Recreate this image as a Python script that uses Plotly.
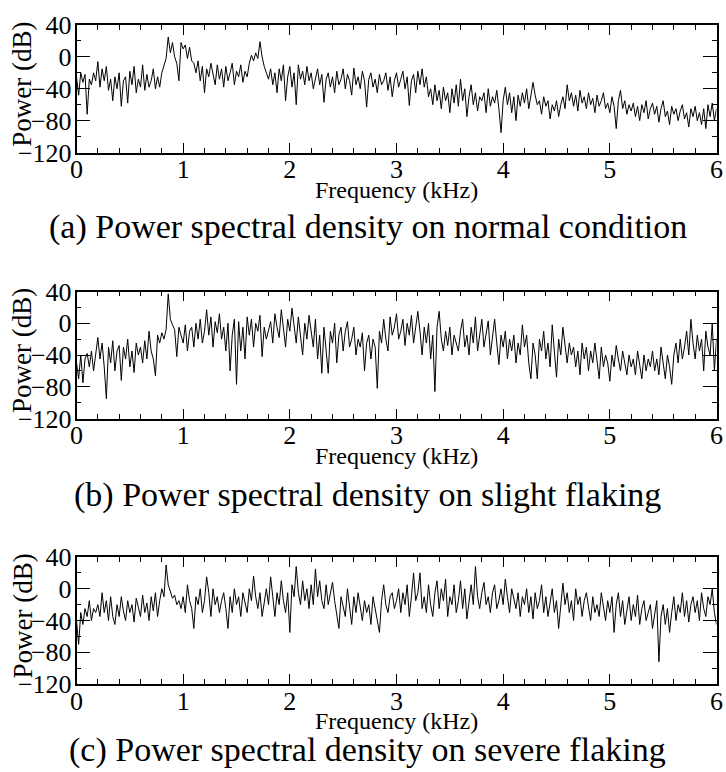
import numpy as np
import plotly.graph_objects as go

# frequency grid (kHz), uniform 0.02 kHz step
freq_khz = np.round(np.arange(301) * 0.02, 2)

# (a) normal condition, dB
psd_normal = [
    -25, -48, -20, -32, -22, -72, -28, -35, -20, -30,
    -6, -38, -15, -30, -12, -42, -28, -55, -25, -40,
    -20, -62, -30, -25, -58, -18, -35, -12, -45, -28,
    -38, -10, -42, -22, -38, -30, -15, -40, -25, -38,
    -20, -12, -2, 25, 5, 18, 0, -8, -30, 18,
    10, 15, -2, 12, -5, -8, -20, -5, -30, -12,
    -45, -15, -25, -8, -22, -35, -10, -28, -15, -38,
    -12, -30, -20, -8, -35, -18, -25, -10, -32, -18,
    -25, -8, 2, -5, 5, -2, 19, 0, -12, -20,
    -28, -15, -35, -20, -45, -15, -30, -10, -55, -25,
    -12, -38, -20, -60, -10, -28, -18, -35, -12, -30,
    -20, -40, -25, -15, -35, -22, -57, -28, -20, -38,
    -25, -45, -18, -35, -28, -15, -40, -22, -30, -48,
    -14, -35, -25, -40, -18, -30, -63, -28, -20, -38,
    -28, -45, -22, -35, -30, -20, -42, -25, -50, -30,
    -20, -38, -28, -18, -40, -25, -61, -30, -22, -45,
    -18, -35, -15, -38, -25, -50, -40, -60, -35, -55,
    -42, -65, -38, -55, -45, -70, -40, -58, -35, -62,
    -28, -55, -40, -75, -50, -35, -60, -45, -68, -50,
    -55, -45, -70, -40, -62, -50, -58, -42, -65, -95,
    -55, -38, -60, -45, -70, -50, -80, -48, -62, -45,
    -58, -40, -65, -50, -32, -48, -60, -55, -72, -50,
    -62, -55, -78, -60, -68, -55, -75, -60, -50, -65,
    -35, -55, -45, -62, -48, -68, -42, -58, -50, -65,
    -45, -60, -52, -70, -48, -62, -55, -45, -65, -58,
    -70, -50, -62, -90, -55, -42, -65, -55, -72, -60,
    -68, -58, -75, -62, -80, -60, -70, -55, -78, -65,
    -58, -72, -62, -82, -65, -55, -75, -68, -85, -62,
    -72, -65, -80, -68, -60, -78, -70, -88, -65, -75,
    -62, -80, -70, -85, -65, -90, -60, -75, -58, -80,
    -65,
]

# (b) slight flaking, dB
psd_slight = [
    -50, -70, -40, -75, -45, -38, -55, -35, -60, -42,
    -18, -45, -25, -55, -95, -30, -50, -22, -60, -35,
    -28, -72, -30, -45, -20, -55, -35, -62, -25, -40,
    -30, -50, -22, -45, -10, -35, -45, -66, -15, -25,
    -12, -20, -8, 37, 5, -2, -8, -42, -5, -15,
    -25, -2, -35, -10, -5, -30, 0, -20, 5, -25,
    -10, 17, -15, 8, -30, 2, -12, 12, -20, -5,
    -35, 0, -60, -15, 5, -77, 2, -35, -5, -45,
    8, -15, 5, -30, 0, -10, 10, -42, -5, -20,
    -8, 2, -25, 12, -5, -18, 17, -3, -30, 5,
    -10, 19, -5, -25, 8, -15, -40, 0, -20, 10,
    -8, -30, 5, -45, -15, -63, -5, -30, -63, -10,
    -25, 0, -50, -15, -5, -35, -10, 2, -30, -20,
    -5, -40, -20, -30, -12, -60, -25, -15, -45, -20,
    -30, -82, -10, -25, 5, -20, -35, 8, -15, -5,
    12, -20, -10, 5, -28, 0, -15, 10, -25, -5,
    15, -10, -40, -5, -25, 0, -45, -15, -86, -5,
    15, -20, -35, -10, -28, -5, -40, -15, -25, -35,
    -10, 5, -30, -15, -40, -5, -25, 8, -35, -15,
    5, -30, -10, 3, -40, -20, 5, -25, -52, -15,
    -30, -10, -45, -20, -35, -15, -50, -25, -40, -2,
    -30, -15, -50, -70, -25, -40, -70, -20, -35, -10,
    -45, -25, -55, -2, -35, -68, -20, -40, -5, -30,
    -50, -25, -40, -30, -55, -35, -65, -25, -45, -30,
    -60, -35, -50, -25, -45, -70, -30, -55, -40, -50,
    -73, -40, -55, -28, -45, -60, -35, -50, -65, -40,
    -55, -45, -65, -35, -50, -70, -40, -60, -45, -55,
    -35, -60, -45, -65, -30, -50, -70, -40, -55, -77,
    -40, -25, -50, -20, -45, -30, -10, -40, 5, -25,
    -45, -15, -35, -20, -60, -10, -30, -40, 0, -60,
    -20,
]

# (c) severe flaking, dB
psd_severe = [
    -40, -70, -30, -45, -25, -35, -15, -40, -25, -30,
    -20, -35, -5, -30, -15, -40, -10, -35, -45, -20,
    -35, -10, -28, -40, -15, -30, -20, -42, -12, -25,
    -35, -8, -30, -18, -40, -10, -28, -5, -35, -15,
    0, -10, 30, 5, -5, -12, -8, -20, -15, -25,
    -10, -30, 5, -15, -25, -50, -10, -20, 0, -30,
    -15, 15, -5, -35, 0, -20, -10, -30, -15, -5,
    -25, -50, -10, -30, 0, -20, -10, -35, -5, -20,
    -30, 0, -15, 16, -10, -25, -5, -35, -15, 0,
    -20, 15, -10, -35, -5, -20, 10, -15, -30, -5,
    -55, 5, -10, 28, -5, -20, 10, -15, 0, -25,
    5, -20, 25, -10, 10, -15, -25, 5, -20, -5,
    8, -15, -30, -50, -10, -25, -35, 0, -20, -45,
    -10, -30, -5, -25, -40, -15, -30, -20, -45, -10,
    -25, -35, -55, -15, 5, -20, -30, -10, -5, -25,
    -15, 0, -30, -5, -20, 5, -35, -10, 20, -15,
    -5, 20, -25, -10, -30, 5, -20, -35, -5, 10,
    -25, 0, -15, 12, -35, -10, -20, 5, -30, -15,
    10, -25, 0, -38, -15, 5, -20, 28, -10, -25,
    -5, 8, -20, -10, -30, -5, 5, -25, -15, 0,
    -20, 12, -10, -30, 0, -15, -25, -5, -35, -10,
    -20, 0, -30, -10, -38, -5, -25, -15, 5, -30,
    -10, -35, -20, 0, -30, -15, -50, -25, 7, -20,
    -5, -30, -15, -40, 0, -20, -10, -35, -15, -5,
    -25, -40, -10, -30, -20, -35, -5, -25, -40, -15,
    -30, -10, -55, -20, -5, -35, -15, -45, -25, -10,
    -40, -20, -35, -8, -45, -25, -15, -40, -30, -20,
    -50, -30, -15, -92, -35, -20, -45, -25, -55, -30,
    -10, -40, -20, -30, -5, -35, -15, -42, -20, -10,
    -30, -15, -40, -5, -25, -35, -10, -20, 0, -30,
    -45,
]

series = [psd_normal, psd_slight, psd_severe]
captions = [
    "(a) Power spectral density on normal condition",
    "(b) Power spectral density on slight flaking",
    "(c) Power spectral density on severe flaking",
]
x_ticks = [0, 1, 2, 3, 4, 5, 6]
y_ticks = [40, 0, -40, -80, -120]

W, H = 726, 772
# panel pixel boxes (top, bottom)
panels = [(25, 152.5), (291.5, 418.5), (557, 684)]
caption_offsets = [74.5, 76, 66]
x_left, x_right = 76.5, 716.5


def py(px):
    return 1 - px / H


fig = go.Figure()
serif = "Liberation Serif"
for i, (vals, (top, bot)) in enumerate(zip(series, panels)):
    sfx = "" if i == 0 else str(i + 1)
    fig.add_trace(go.Scatter(
        x=freq_khz, y=vals, mode="lines",
        line=dict(color="black", width=1),
        xaxis="x" + sfx, yaxis="y" + sfx, showlegend=False,
    ))
    fig.layout["xaxis" + sfx] = dict(
        domain=[x_left / W, x_right / W], anchor="y" + sfx, automargin=False,
        range=[0, 6], tickvals=x_ticks, ticktext=[str(t) for t in x_ticks],
        ticks="inside", ticklen=10, tickwidth=1, tickcolor="black",
        ticklabelstandoff=-7,
        minor=dict(ticks="inside", ticklen=5, dtick=0.2, tickcolor="black", tickwidth=1),
        showline=True, linecolor="black", linewidth=1.5, mirror="ticks",
        showgrid=False, zeroline=False,
        tickfont=dict(family=serif, size=26, color="black"),
    )
    fig.layout["yaxis" + sfx] = dict(
        domain=[py(bot), py(top)], anchor="x" + sfx, automargin=False,
        range=[-120, 40], tickvals=y_ticks,
        ticks="inside", ticklen=14, tickwidth=1, tickcolor="black",
        ticklabelstandoff=-2,
        minor=dict(ticks="inside", ticklen=5, dtick=20, tickcolor="black", tickwidth=1),
        showline=True, linecolor="black", linewidth=1.5, mirror="ticks",
        showgrid=False, zeroline=False,
        tickfont=dict(family=serif, size=26, color="black"),
    )
    fig.add_annotation(
        text="Frequency (kHz)", xref="paper", yref="paper",
        x=(x_left + x_right) / 2 / W, y=py(bot + 37), xanchor="center", yanchor="middle",
        showarrow=False, font=dict(family=serif, size=24, color="black"),
    )
    fig.add_annotation(
        text="Power (dB)", xref="paper", yref="paper", textangle=-90,
        x=22 / W, y=py((top + bot) / 2 - 4), xanchor="center", yanchor="middle",
        showarrow=False, font=dict(family=serif, size=27, color="black"),
    )
    fig.add_annotation(
        text=captions[i], xref="paper", yref="paper",
        x=0.5 * (45 + 690) / W, y=py(bot + caption_offsets[i]), xanchor="center", yanchor="middle",
        showarrow=False, font=dict(family=serif, size=34, color="black"),
    )

fig.update_layout(
    width=W, height=H, margin=dict(l=0, r=0, t=0, b=0),
    paper_bgcolor="white", plot_bgcolor="white",
)
fig.write_html(
    "out.html",
    config={"displayModeBar": False},
    post_script="document.body.style.margin='0';document.body.style.padding='0';",
)
